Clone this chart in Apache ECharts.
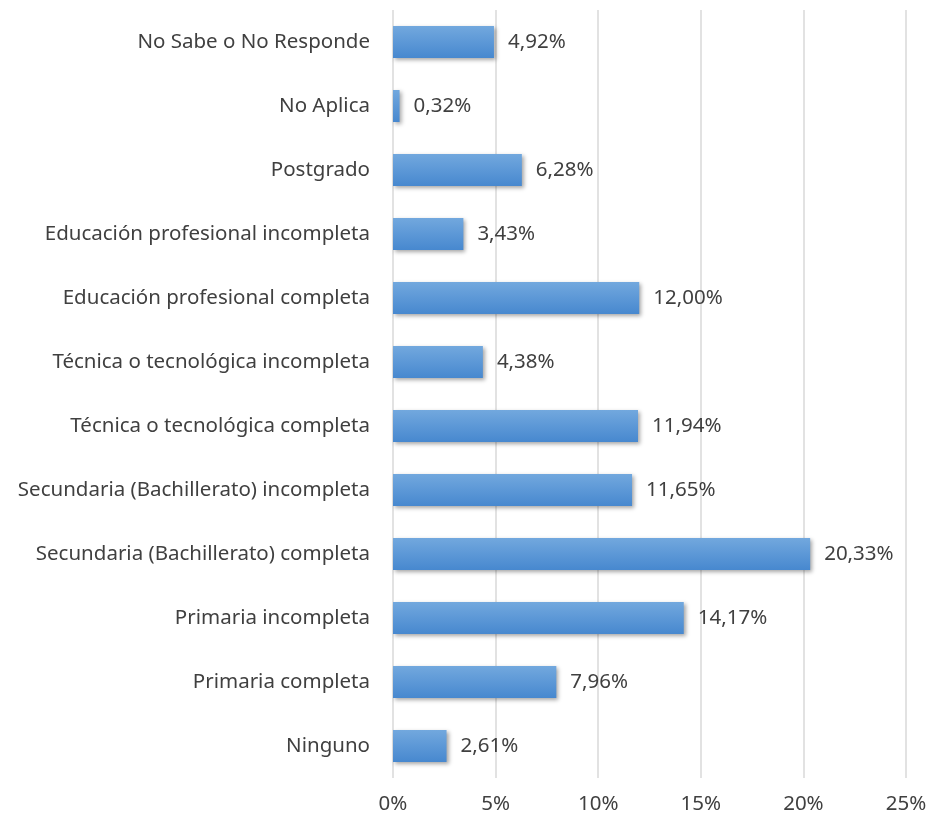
<!DOCTYPE html>
<html>
<head>
<meta charset="utf-8">
<script src="https://cdn.jsdelivr.net/npm/echarts@6/dist/echarts.min.js"></script>
<style>
  html, body { margin: 0; padding: 0; background: #fff; }
  #chart { width: 926px; height: 820px; }
</style>
</head>
<body>
<div id="chart"></div>
<script>
// categorías de abajo hacia arriba
const categories = [
  'Ninguno',
  'Primaria completa',
  'Primaria incompleta',
  'Secundaria (Bachillerato) completa',
  'Secundaria (Bachillerato) incompleta',
  'Técnica o tecnológica completa',
  'Técnica o tecnológica incompleta',
  'Educación profesional completa',
  'Educación profesional incompleta',
  'Postgrado',
  'No Aplica',
  'No Sabe o No Responde'
];
const values = [2.61, 7.96, 14.17, 20.33, 11.65, 11.94, 4.38, 12.00, 3.43, 6.28, 0.32, 4.92];
const xTicks = [0, 5, 10, 15, 20, 25];

const textColor = '#404040';
const fontFamily = '"Noto Sans", "Open Sans", sans-serif';
const fontSize = 20.5;

const chart = echarts.init(document.getElementById('chart'));

chart.setOption({
  animation: false,
  grid: {
    left: 393,
    right: 20,
    top: 10,
    bottom: 42,
    outerBoundsMode: 'none'
  },
  xAxis: {
    type: 'value',
    min: xTicks[0],
    max: xTicks[xTicks.length - 1],
    interval: 5,
    axisLine: { show: false },
    axisTick: { show: false },
    axisLabel: {
      color: textColor,
      fontSize: fontSize,
      fontFamily: fontFamily,
      margin: 16,
      formatter: v => v + '%'
    },
    splitLine: {
      lineStyle: { color: '#d9d9d9', width: 1.5 }
    }
  },
  yAxis: {
    type: 'category',
    data: categories,
    axisLine: { show: false },
    axisTick: { show: false },
    axisLabel: {
      color: textColor,
      fontSize: fontSize,
      fontFamily: fontFamily,
      margin: 23
    }
  },
  series: [
    {
      type: 'bar',
      data: values,
      barWidth: 32,
      itemStyle: {
        color: new echarts.graphic.LinearGradient(0, 0, 0, 1, [
          { offset: 0, color: '#72a8de' },
          { offset: 1, color: '#4788cf' }
        ]),
        shadowColor: 'rgba(0,0,0,0.35)',
        shadowBlur: 4,
        shadowOffsetX: 2,
        shadowOffsetY: 2
      },
      label: {
        show: true,
        position: 'right',
        distance: 14,
        color: textColor,
        fontSize: fontSize,
        fontFamily: fontFamily,
        formatter: p => p.value.toFixed(2).replace('.', ',') + '%'
      }
    }
  ]
});
</script>
</body>
</html>
